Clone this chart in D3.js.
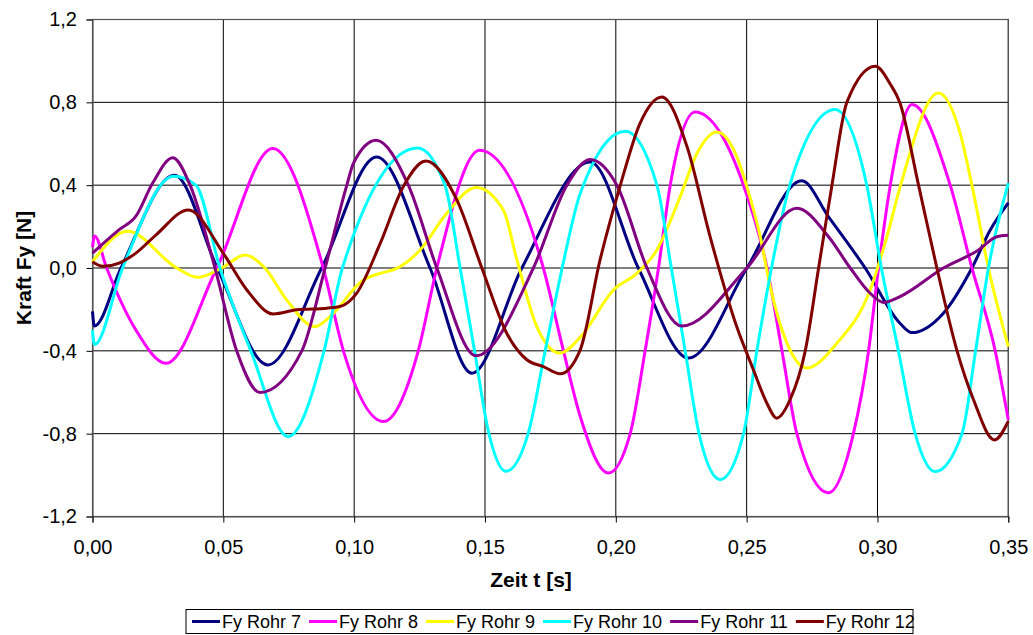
<!DOCTYPE html>
<html><head><meta charset="utf-8">
<script src="https://cdn.jsdelivr.net/npm/d3@7"></script>
<style>
body{margin:0;background:#fff}
text{font-family:"Liberation Sans",Arial,sans-serif;fill:#000}
</style>
</head><body>
<svg id="c" width="1033" height="635"></svg>
<script>
const seriesNames = ["Fy Rohr 7","Fy Rohr 8","Fy Rohr 9","Fy Rohr 10","Fy Rohr 11","Fy Rohr 12"];
const seriesColors = ["#000080","#FF00FF","#FFFF00","#00FFFF","#800080","#800000"];
const xTicks = [0,0.05,0.10,0.15,0.20,0.25,0.30,0.35];
const yTicks = [-1.2,-0.8,-0.4,0,0.4,0.8,1.2];
const xTitle = "Zeit t [s]";
const yTitle = "Kraft Fy [N]";

// [t (s), Fy (N)]
const rohr7 = [[0,-0.21],[0.0007,-0.28],[0.0109,0],[0.0313,0.448],[0.0477,0],[0.067,-0.468],[0.0876,0],[0.1086,0.536],[0.129,0],[0.145,-0.508],[0.1641,0],[0.1902,0.512],[0.2086,0],[0.2278,-0.435],[0.2501,0],[0.2711,0.421],[0.2813,0.247],[0.2953,0],[0.3086,-0.267],[0.3131,-0.312],[0.3252,-0.218],[0.3361,0],[0.3431,0.183],[0.35,0.314]];
const rohr8 = [[0,0.10],[0.0008,0.155],[0.0054,0],[0.0166,-0.30],[0.0281,-0.46],[0.0475,0],[0.0689,0.577],[0.0882,0],[0.0959,-0.40],[0.1112,-0.741],[0.1245,-0.40],[0.1316,0],[0.1479,0.569],[0.1723,0],[0.18,-0.40],[0.1864,-0.717],[0.1972,-0.99],[0.2055,-0.80],[0.2112,-0.40],[0.2163,0],[0.2208,0.40],[0.2303,0.753],[0.2488,0.40],[0.2578,0],[0.2635,-0.40],[0.2692,-0.80],[0.2813,-1.086],[0.2908,-0.80],[0.2966,-0.40],[0.3004,0],[0.3049,0.40],[0.3132,0.789],[0.3278,0.40],[0.3361,0],[0.345,-0.40],[0.35,-0.733]];
const rohr9 = [[0,0.03],[0.0134,0.177],[0.0322,0],[0.0404,-0.045],[0.0494,0],[0.0583,0.063],[0.0659,0],[0.0742,-0.154],[0.085,-0.283],[0.0908,-0.235],[0.1035,-0.058],[0.1099,-0.026],[0.1163,-0.002],[0.1252,0.087],[0.1354,0.264],[0.1466,0.389],[0.157,0.28],[0.1622,0.039],[0.1698,-0.283],[0.1787,-0.411],[0.1864,-0.335],[0.1991,-0.106],[0.208,-0.026],[0.2157,0.087],[0.2246,0.344],[0.231,0.553],[0.2386,0.657],[0.2463,0.536],[0.2501,0.392],[0.2552,0.151],[0.259,-0.09],[0.2654,-0.363],[0.273,-0.483],[0.2845,-0.363],[0.2972,-0.106],[0.3036,0.151],[0.3087,0.394],[0.3233,0.845],[0.3316,0.65],[0.3361,0.40],[0.3424,0],[0.35,-0.38]];
const rohr10 = [[0,-0.30],[0.0007,-0.37],[0.0115,0],[0.031,0.443],[0.0395,0.40],[0.0487,0],[0.0605,-0.40],[0.0748,-0.814],[0.0885,-0.40],[0.0955,0],[0.1242,0.58],[0.1347,0.40],[0.1405,0],[0.146,-0.40],[0.1515,-0.80],[0.158,-0.982],[0.1665,-0.80],[0.173,-0.40],[0.1795,0],[0.1864,0.36],[0.2036,0.66],[0.2157,0.40],[0.2212,0],[0.2265,-0.40],[0.2318,-0.80],[0.2399,-1.022],[0.2488,-0.80],[0.2539,-0.40],[0.2595,0],[0.2665,0.40],[0.2838,0.765],[0.2959,0.40],[0.3015,0],[0.308,-0.40],[0.3144,-0.80],[0.322,-0.983],[0.3323,-0.80],[0.3375,-0.40],[0.3424,0],[0.35,0.41]];
const rohr11 = [[0,0.072],[0.0102,0.185],[0.0166,0.25],[0.023,0.41],[0.0307,0.533],[0.0373,0.40],[0.0468,0],[0.0551,-0.40],[0.064,-0.601],[0.08,-0.40],[0.0889,0],[0.0972,0.40],[0.0997,0.505],[0.1084,0.617],[0.1207,0.40],[0.1316,0],[0.1466,-0.424],[0.1685,0],[0.1813,0.40],[0.1902,0.524],[0.2004,0.40],[0.2119,0],[0.2252,-0.28],[0.2501,0],[0.2692,0.288],[0.2813,0.151],[0.2896,0],[0.2972,-0.122],[0.3023,-0.166],[0.3086,-0.138],[0.3252,0],[0.3386,0.087],[0.3456,0.151],[0.35,0.158]];
const rohr12 = [[0,0.03],[0.0039,0.008],[0.0102,0.024],[0.0166,0.072],[0.0243,0.16],[0.0366,0.28],[0.05,0.071],[0.059,-0.106],[0.0691,-0.222],[0.078,-0.202],[0.0895,-0.194],[0.0946,-0.186],[0.101,-0.121],[0.11,0.12],[0.1188,0.394],[0.1274,0.517],[0.1392,0.33],[0.1488,0],[0.1583,-0.315],[0.166,-0.443],[0.1723,-0.476],[0.1787,-0.511],[0.1864,-0.395],[0.194,0.04],[0.2016,0.394],[0.2093,0.70],[0.2176,0.826],[0.2272,0.587],[0.236,0.153],[0.2462,-0.283],[0.2526,-0.492],[0.2577,-0.652],[0.2615,-0.725],[0.2666,-0.636],[0.2724,-0.40],[0.2775,0],[0.2826,0.40],[0.2883,0.80],[0.2992,0.974],[0.3048,0.89],[0.3086,0.797],[0.3157,0.40],[0.3227,0],[0.3303,-0.395],[0.3367,-0.636],[0.3447,-0.83],[0.35,-0.74]];

const seriesData = [rohr7, rohr8, rohr9, rohr10, rohr11, rohr12];

const L = 92.5, R = 1008.3, T = 19.5, B = 516.5;
const svg = d3.select("#c");
const x = d3.scaleLinear().domain([0, 0.35]).range([L, R]);
const y = d3.scaleLinear().domain([-1.2, 1.2]).range([B, T]);

// gridlines
const grid = svg.append("g");
grid.selectAll("line.h").data(yTicks).enter().append("line")
  .attr("x1", L).attr("x2", R).attr("y1", d => y(d)).attr("y2", d => y(d))
  .attr("stroke", "#000").attr("stroke-width", 1);
grid.selectAll("line.v").data(xTicks).enter().append("line")
  .attr("y1", T).attr("y2", B).attr("x1", d => x(d)).attr("x2", d => x(d))
  .attr("stroke", "#000").attr("stroke-width", 1);
svg.append("rect").attr("x", L).attr("y", T).attr("width", R - L).attr("height", B - T)
  .attr("fill", "none").attr("stroke", "#555").attr("stroke-width", 1.2);

// axes
const yAxis = svg.append("g").attr("transform", `translate(${L},0)`)
  .call(d3.axisLeft(y).tickValues(yTicks).tickSize(6).tickPadding(9.5)
    .tickFormat(d => d.toFixed(1).replace(".", ",")));
const xAxis = svg.append("g").attr("transform", `translate(0,${B})`)
  .call(d3.axisBottom(x).tickValues(xTicks).tickSize(6).tickPadding(17)
    .tickFormat(d => d.toFixed(2).replace(".", ",")));
[yAxis, xAxis].forEach(a => {
  a.select(".domain").attr("stroke", "#555").attr("stroke-width", 1.2);
  a.selectAll(".tick line").attr("stroke", "#000");
  a.selectAll(".tick text").attr("font-family", "Liberation Sans, Arial, sans-serif")
    .attr("font-size", 20).attr("fill", "#000");
});

// titles
svg.append("text").attr("x", 531).attr("y", 587).attr("text-anchor", "middle")
  .attr("font-size", 21).attr("font-weight", "bold").text(xTitle);
svg.append("text").attr("transform", "translate(31,268) rotate(-90)").attr("text-anchor", "middle")
  .attr("font-size", 21).attr("font-weight", "bold").text(yTitle);

// lines
const line = d3.line().x(d => x(d[0])).y(d => y(d[1])).curve(d3.curveMonotoneX);
const plot = svg.append("g");
seriesData.forEach((s, i) => {
  plot.append("path").datum(s).attr("d", line)
    .attr("fill", "none").attr("stroke", seriesColors[i])
    .attr("stroke-width", 3).attr("stroke-linejoin", "round");
});

// legend
const lg = svg.append("g");
lg.append("rect").attr("x", 186).attr("y", 609.5).attr("width", 727).attr("height", 24)
  .attr("fill", "#fff").attr("stroke", "#000").attr("stroke-width", 1);
let cx = 192;
seriesNames.forEach((n, i) => {
  lg.append("line").attr("x1", cx).attr("x2", cx + 28).attr("y1", 621.5).attr("y2", 621.5)
    .attr("stroke", seriesColors[i]).attr("stroke-width", 3);
  const t = lg.append("text").attr("x", cx + 30).attr("y", 628).attr("font-size", 18).text(n);
  cx += 30 + t.node().getComputedTextLength() + 8;
});
</script>
</body></html>
